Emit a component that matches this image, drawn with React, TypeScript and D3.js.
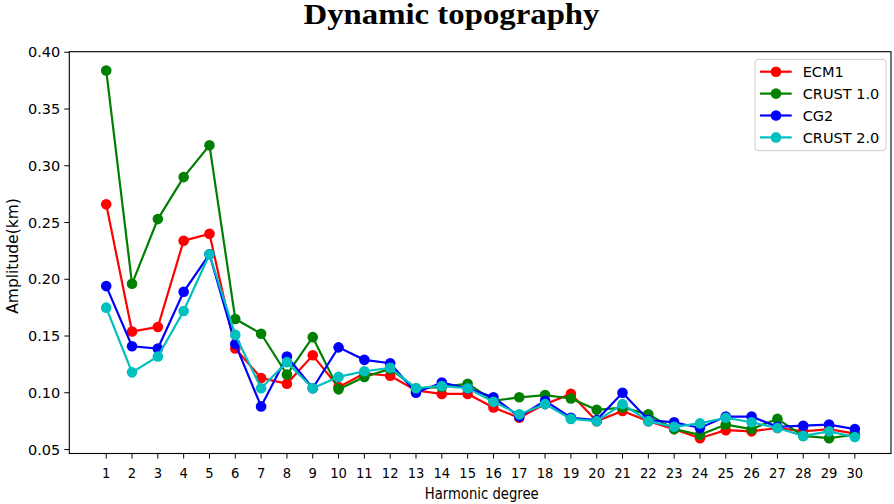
import React from "react";
import * as d3 from "d3";

const degrees = d3.range(1, 31);

const ecm1 = [0.266, 0.154, 0.158, 0.234, 0.240, 0.139, 0.113, 0.108, 0.133, 0.105,
  0.117, 0.115, 0.102, 0.099, 0.099, 0.087, 0.078, 0.090, 0.099, 0.075,
  0.084, 0.075, 0.068, 0.060, 0.067, 0.066, 0.069, 0.066, 0.068, 0.064];
const crust1 = [0.384, 0.196, 0.253, 0.290, 0.318, 0.165, 0.152, 0.116, 0.149, 0.103,
  0.114, 0.121, 0.104, 0.105, 0.108, 0.093, 0.096, 0.098, 0.095, 0.085,
  0.087, 0.081, 0.068, 0.063, 0.072, 0.068, 0.077, 0.062, 0.060, 0.063];
const cg2 = [0.194, 0.141, 0.139, 0.189, 0.222, 0.143, 0.088, 0.132, 0.104, 0.140,
  0.129, 0.126, 0.100, 0.109, 0.104, 0.096, 0.079, 0.093, 0.078, 0.076,
  0.100, 0.076, 0.074, 0.069, 0.079, 0.079, 0.070, 0.071, 0.072, 0.068];
const crust2 = [0.175, 0.118, 0.132, 0.172, 0.222, 0.151, 0.104, 0.127, 0.104, 0.114,
  0.119, 0.122, 0.104, 0.106, 0.104, 0.092, 0.081, 0.090, 0.077, 0.075,
  0.090, 0.075, 0.070, 0.073, 0.078, 0.074, 0.069, 0.062, 0.066, 0.061];

const seriesNames = ["ECM1", "CRUST 1.0", "CG2", "CRUST 2.0"];
const seriesValues = [ecm1, crust1, cg2, crust2];
const seriesColors = ["#ff0000", "#008000", "#0000ff", "#00bfbf"];
const yTicks = [0.05, 0.10, 0.15, 0.20, 0.25, 0.30, 0.35, 0.40];

const W = 894;
const H = 504;
const L = 69.3, R = 891, T = 51.7, B = 453.5;
const FONT = "DejaVu Sans, sans-serif";

export default function App() {
  const x = d3.scaleLinear().domain([-0.43, 31.4]).range([L, R]);
  const y = d3.scaleLinear().domain([0.0465, 0.4005]).range([B, T]);
  const line = d3.line<number>().x((_, i) => x(degrees[i])).y((d) => y(d));

  return (
    <svg width={W} height={H} style={{ position: "fixed", left: 0, top: 0, background: "#fff" }}>
      <rect x={0} y={0} width={W} height={H} fill="#fff" />
      <text x={451.5} y={24} textAnchor="middle" fontFamily="Liberation Serif, Times New Roman, serif" fontWeight="bold" fontSize={30} textLength={296} lengthAdjust="spacingAndGlyphs">
        Dynamic topography
      </text>
      {/* y ticks */}
      {yTicks.map((t) => (
        <g key={t}>
          <line x1={L - 5} x2={L} y1={y(t)} y2={y(t)} stroke="#000" strokeWidth={1} />
          <text x={L - 9} y={y(t)} dy="0.35em" textAnchor="end" fontFamily={FONT} fontSize={14.5}>
            {t.toFixed(2)}
          </text>
        </g>
      ))}
      {/* x ticks */}
      {degrees.map((d) => (
        <g key={d}>
          <line x1={x(d)} x2={x(d)} y1={B} y2={B + 5} stroke="#000" strokeWidth={1} />
          <g transform={`translate(${x(d)},478) scale(0.9,1)`}>
            <text x={0} y={0} textAnchor="middle" fontFamily={FONT} fontSize={14.6}>
              {d}
            </text>
          </g>
        </g>
      ))}
      <g transform={`translate(481.7,499) scale(0.8,1)`}>
        <text x={0} y={0} textAnchor="middle" fontFamily={FONT} fontSize={16.5}>
          Harmonic degree
        </text>
      </g>
      <text transform={`translate(18.3,256) rotate(-90)`} textAnchor="middle" fontFamily={FONT} fontSize={15.5}>
        Amplitude(km)
      </text>
      {/* series */}
      {seriesValues.map((vals, si) => (
        <g key={si}>
          <path d={line(vals) || ""} fill="none" stroke={seriesColors[si]} strokeWidth={2.2} />
          {vals.map((v, i) => (
            <circle key={i} cx={x(degrees[i])} cy={y(v)} r={5.3} fill={seriesColors[si]} />
          ))}
        </g>
      ))}
      {/* frame */}
      <rect x={L} y={T} width={R - L} height={B - T} fill="none" stroke="#000" strokeWidth={1.1} />
      {/* legend */}
      <rect x={755} y={59.3} width={131} height={91.4} rx={3} fill="#fff" fillOpacity={0.8} stroke="#cccccc" strokeWidth={1} />
      {seriesNames.map((n, i) => {
        const ly = 71.7 + i * 21.9;
        return (
          <g key={n}>
            <line x1={760} x2={791.7} y1={ly} y2={ly} stroke={seriesColors[i]} strokeWidth={2.2} />
            <circle cx={776} cy={ly} r={5.3} fill={seriesColors[i]} />
            <text x={802.7} y={ly} dy="0.36em" fontFamily={FONT} fontSize={14.5}>
              {n}
            </text>
          </g>
        );
      })}
    </svg>
  );
}
